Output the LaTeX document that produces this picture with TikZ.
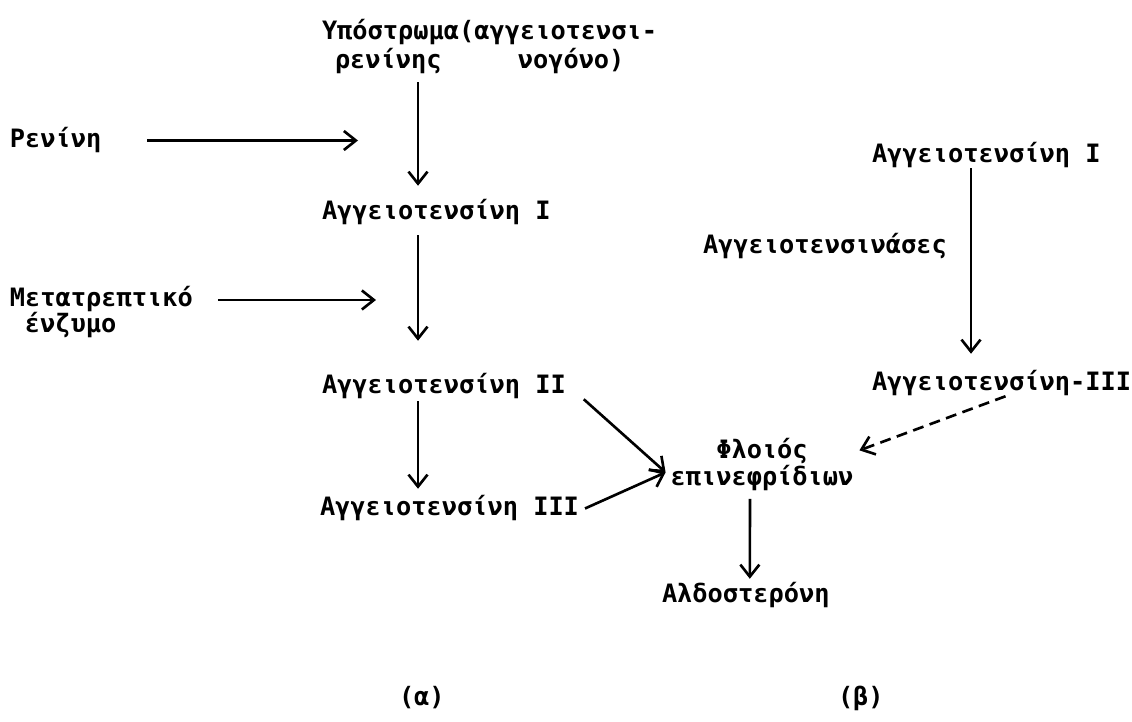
\documentclass[tikz,border=0pt]{standalone}
\usepackage{fontspec}
\newfontfamily\typer{DejaVu Sans Mono}
\usetikzlibrary{arrows.meta}
\tikzset{
  term/.style={font=\typer\bfseries\fontsize{14.4pt}{16.5pt}\selectfont, inner sep=0pt, outer sep=0pt},
  flow/.style={line width=1.5pt, -{Straight Barb[length=2.4mm,width=3.8mm,line width=1.5pt]}},
  dashflow/.style={flow, dash pattern=on 2.2mm off 1.3mm},
}

\begin{document}
\begin{tikzpicture}
\useasboundingbox (0,0) rectangle (22.64,14.44);
\node[term, anchor=north west, align=left] (substrate) at (6.44,14.06) {Υπόστρωμα(αγγειοτενσι-\\\hspace*{0.26cm}ρενίνης~~~~~νογόνο)};
\node[term, anchor=base west] (renin) at (0.20,11.48) {Ρενίνη};
\node[term, anchor=base west] (angI) at (6.44,10.04) {Αγγειοτενσίνη I};
\node[term, anchor=north west, align=left, font=\typer\bfseries\fontsize{14.4pt}{14.7pt}\selectfont] (convert) at (0.20,8.72) {Μετατρεπτικό\\\hspace*{0.3cm}ένζυμο};
\node[term, anchor=base west] (angII) at (6.44,6.56) {Αγγειοτενσίνη II};
\node[term, anchor=base west] (angIII) at (6.40,4.12) {Αγγειοτενσίνη III};
\node[term, anchor=base west] (rangI) at (17.44,11.18) {Αγγειοτενσίνη I};
\node[term, anchor=base west] (ases) at (14.06,9.36) {Αγγειοτενσινάσες};
\node[term, anchor=base west] (rangIII) at (17.44,6.62) {Αγγειοτενσίνη-III};
\node[term, anchor=north, align=center, font=\typer\bfseries\fontsize{14.4pt}{13.6pt}\selectfont] (cortex) at (15.24,5.68) {Φλοιός\\επινεφρίδιων};
\node[term, anchor=base west] (aldo) at (13.24,2.38) {Αλδοστερόνη};
\node[term, anchor=base west] (panela) at (7.98,0.32) {(α)};
\node[term, anchor=base west] (panelb) at (16.76,0.32) {(β)};
\coordinate (reninend) at (7.16,11.64);
\coordinate (convend) at (7.52,8.44);
\coordinate (cortexin) at ([xshift=-0.1cm,yshift=-0.16cm]cortex.west);
\draw[flow] ([xshift=0.92cm]renin.east) -- (renin.east -| reninend);
\draw[flow, shorten <=0.5cm] (convend -| convert.east) -- (convend);
\draw[flow] ([xshift=1.92cm,yshift=-0.18cm]substrate.south west) -- ([xshift=1.92cm,yshift=0.28cm]angI.north west);
\draw[flow] ([xshift=1.92cm,yshift=-0.2cm]angI.south west) -- ([xshift=1.92cm,yshift=0.66cm]angII.north west);
\draw[flow] ([xshift=1.92cm,yshift=-0.04cm]angII.south west) -- ([xshift=1.96cm,yshift=0.14cm]angIII.north west);
\draw[flow] ([xshift=1.98cm]rangI.south west) -- ([xshift=1.98cm,yshift=0.34cm]rangIII.north west);
\draw[flow] ([xshift=0.36cm]angII.south east) -- (cortexin);
\draw[flow] ([xshift=0.12cm]angIII.east) -- (cortexin);
\draw[dashflow] ([xshift=0.08cm]rangIII.south) -- ([xshift=0.12cm,yshift=0.28cm]cortex.east);
\draw[flow, shorten <=0.16cm, shorten >=0.08cm] ([xshift=-0.24cm]cortex.south) -- ([xshift=0.08cm]aldo.north);
\end{tikzpicture}
\end{document}
